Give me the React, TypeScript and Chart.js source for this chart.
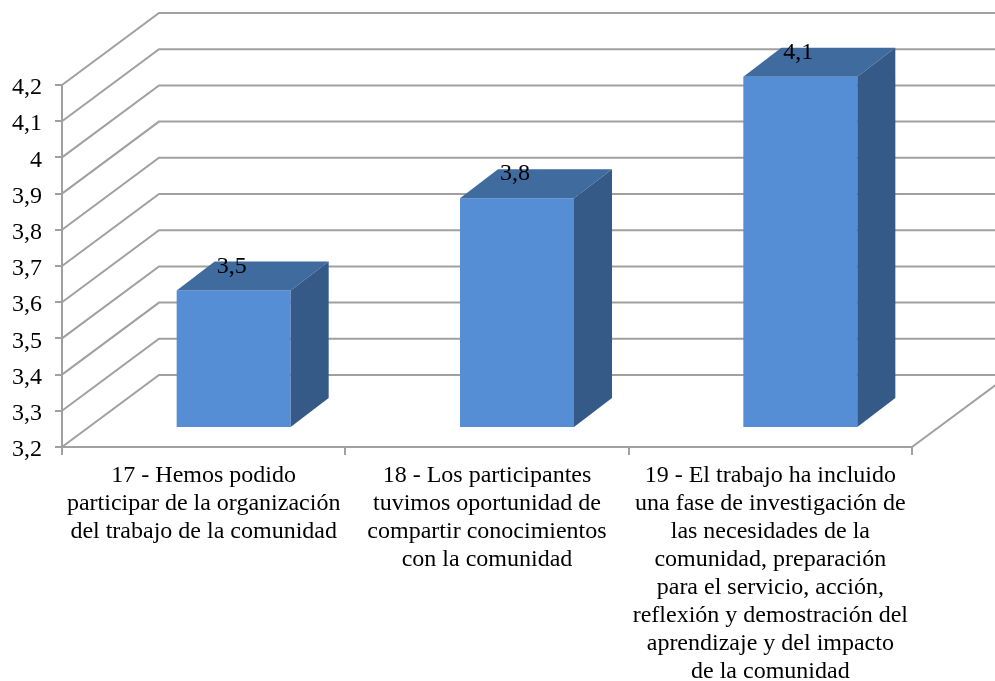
import React, { useEffect, useRef } from "react";
import { Chart, registerables } from "chart.js";

Chart.register(...registerables);

const categories = [
  ["17 - Hemos podido", "participar de la organización", "del trabajo de la comunidad"],
  ["18 - Los participantes", "tuvimos oportunidad de", "compartir conocimientos", "con la comunidad"],
  ["19 - El trabajo ha incluido", "una fase de investigación de", "las necesidades de la", "comunidad, preparación", "para el servicio, acción,", "reflexión y demostración del", "aprendizaje y del impacto", "de la comunidad"],
];
const values = [3.58, 3.835, 4.17];
const valueLabels = ["3,5", "3,8", "4,1"];
const yMin = 3.2;
const yMax = 4.2;

const FONT = '"Liberation Serif", "Times New Roman", serif';
const GRID = "#a0a0a0";
const WALL_DX = 97;
const WALL_DY = -72;
const BAR_DX = 30;
const BAR_DY = -19;
const DEPTH_DX = 38;
const DEPTH_DY = -29;

const wall3d = {
  id: "wall3d",
  beforeDatasetsDraw(chart: any) {
    const { ctx, chartArea, scales } = chart;
    ctx.save();
    ctx.strokeStyle = GRID;
    ctx.lineWidth = 2;
    scales.y.ticks.forEach((t: any) => {
      const y = scales.y.getPixelForValue(t.value);
      ctx.beginPath();
      ctx.moveTo(chartArea.left, y);
      ctx.lineTo(chartArea.left + WALL_DX, y + WALL_DY);
      ctx.lineTo(chart.width + 2, y + WALL_DY);
      ctx.stroke();
    });
    ctx.beginPath();
    ctx.moveTo(chartArea.right, chartArea.bottom);
    ctx.lineTo(chartArea.right + WALL_DX, chartArea.bottom + WALL_DY);
    ctx.stroke();
    ctx.restore();
  },
  beforeDatasetDraw(chart: any) {
    chart.ctx.save();
    chart.ctx.translate(BAR_DX, BAR_DY);
  },
  afterDatasetDraw(chart: any) {
    chart.ctx.restore();
  },
  afterDatasetsDraw(chart: any) {
    const { ctx } = chart;
    const meta = chart.getDatasetMeta(0);
    ctx.save();
    meta.data.forEach((bar: any, i: number) => {
      const l = bar.x - bar.width / 2 + BAR_DX;
      const r = bar.x + bar.width / 2 + BAR_DX;
      const t = bar.y + BAR_DY;
      const b = bar.base + BAR_DY;
      ctx.fillStyle = "#3f6b9f";
      ctx.beginPath();
      ctx.moveTo(l, t);
      ctx.lineTo(l + DEPTH_DX, t + DEPTH_DY);
      ctx.lineTo(r + DEPTH_DX, t + DEPTH_DY);
      ctx.lineTo(r, t);
      ctx.closePath();
      ctx.fill();
      ctx.fillStyle = "#355a88";
      ctx.beginPath();
      ctx.moveTo(r, t);
      ctx.lineTo(r + DEPTH_DX, t + DEPTH_DY);
      ctx.lineTo(r + DEPTH_DX, b + DEPTH_DY);
      ctx.lineTo(r, b);
      ctx.closePath();
      ctx.fill();
      ctx.fillStyle = "#000";
      ctx.font = `24px ${FONT}`;
      ctx.textAlign = "center";
      ctx.textBaseline = "middle";
      ctx.fillText(valueLabels[i], (l + r) / 2 - 2, t - 24);
    });
    ctx.restore();
  },
};

export default function App() {
  const ref = useRef<HTMLCanvasElement>(null);
  useEffect(() => {
    document.body.style.margin = "0";
    const chart = new Chart(ref.current!, {
      type: "bar",
      plugins: [wall3d],
      data: {
        labels: categories,
        datasets: [
          {
            data: values,
            base: yMin,
            backgroundColor: "#558ed5",
            barPercentage: 0.8,
            categoryPercentage: 0.503,
            clip: false,
          } as any,
        ],
      },
      options: {
        animation: false,
        responsive: false,
        devicePixelRatio: 1,
        layout: { padding: { left: 0, right: 83, top: 85, bottom: 0 } },
        plugins: { legend: { display: false }, tooltip: { enabled: false }, title: { display: false } },
        scales: {
          x: {
            offset: true,
            grid: { drawOnChartArea: false, color: GRID, tickLength: 8, lineWidth: 2, offset: true },
            border: { color: GRID, width: 2 },
            ticks: {
              color: "#000",
              maxRotation: 0,
              minRotation: 0,
              autoSkip: false,
              padding: 7,
              font: { family: FONT, size: 24, lineHeight: 1.165 },
            },
            afterFit: (s: any) => { s.height = 234; },
          },
          y: {
            min: yMin,
            max: yMax,
            grid: { drawOnChartArea: false, color: GRID, tickLength: 7, lineWidth: 2 },
            border: { color: GRID, width: 2 },
            afterFit: (s: any) => { s.width = 62; },
            ticks: {
              stepSize: 0.1,
              color: "#000",
              padding: 13,
              labelOffset: 3,
              font: { family: FONT, size: 24 },
              callback: (v: any) => Number(Number(v).toFixed(1)).toString().replace(".", ","),
            },
          },
        },
      },
    });
    return () => chart.destroy();
  }, []);
  return <canvas ref={ref} width={995} height={681} style={{ display: "block" }} />;
}
